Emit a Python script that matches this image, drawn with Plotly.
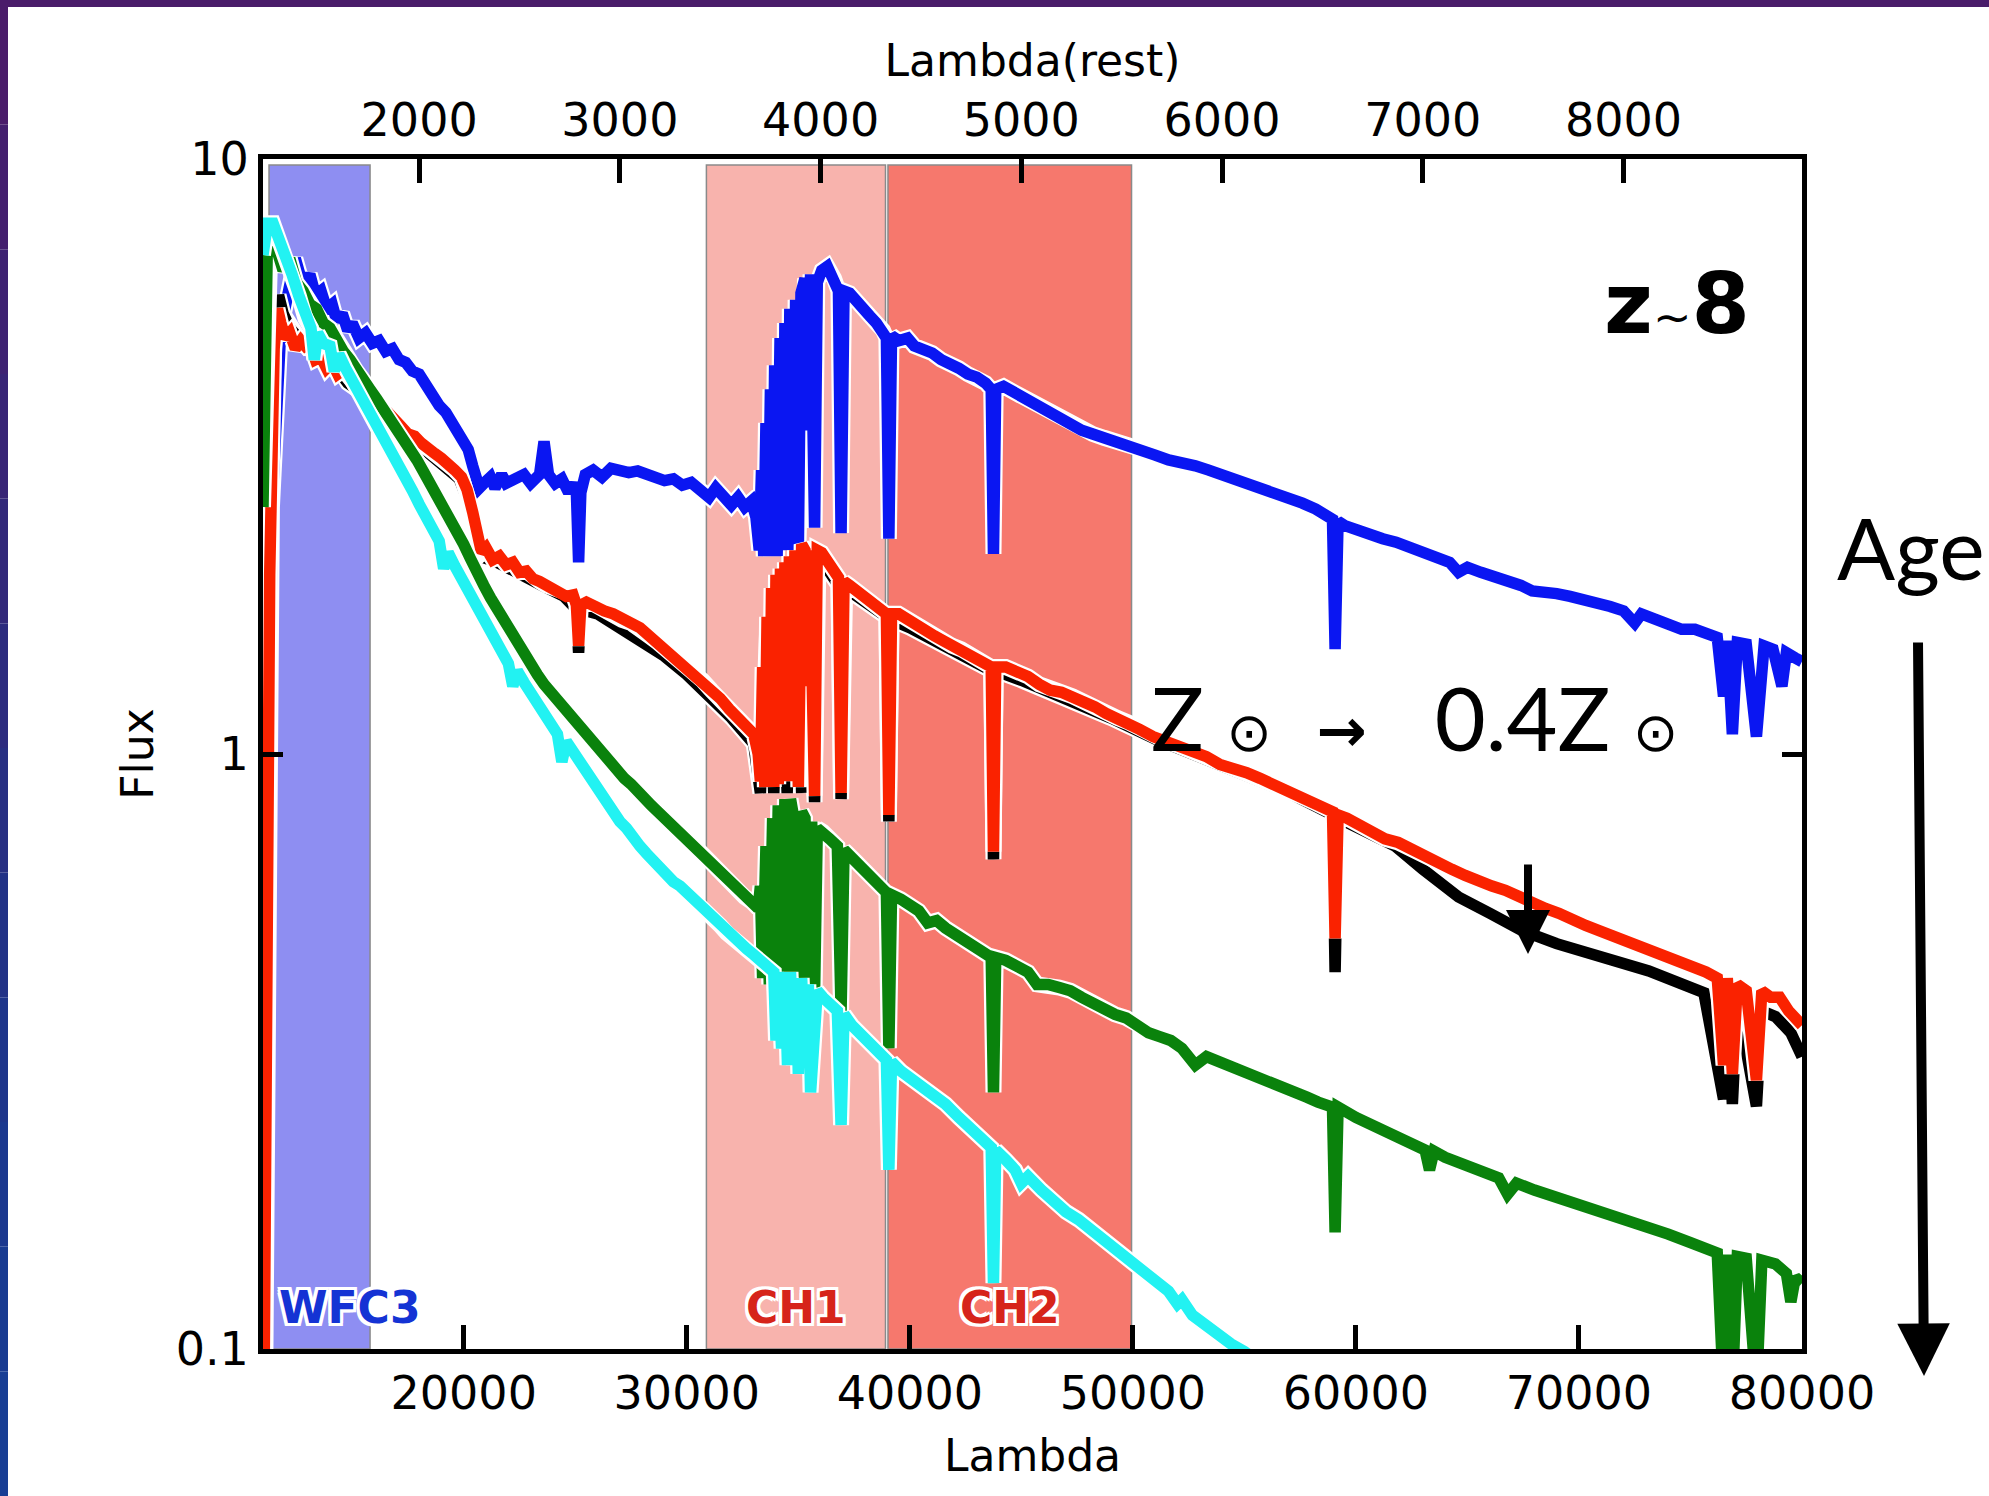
import plotly.graph_objects as go

# ---------------------------------------------------------------------------
# Model spectra of a z~8 galaxy (observed wavelength [A], flux)
# ---------------------------------------------------------------------------
REDSHIFT = 8
OBS_RANGE = (11000, 80000)
LOG_FLUX_RANGE = (-1, 1)

obs_ticks = [20000, 30000, 40000, 50000, 60000, 70000, 80000]
rest_ticks = [2000, 3000, 4000, 5000, 6000, 7000, 8000]
flux_ticks = [0.1, 1, 10]
flux_labels = ["0.1", "1", "10"]

# youngest population
blue_spectrum = [
    (11100, 0.09), (11250, 0.8), (11400, 2.6), (11800, 5.2), (12250, 6.5), (12450, 6.8), (12650, 6.4), (12900, 6.2),
    (13100, 6.4), (13350, 5.9), (13600, 6.0), (13850, 5.6), (14100, 5.7), (14300, 5.35), (14550, 5.5), (14800, 5.15),
    (15000, 5.3), (15300, 5.0), (15600, 5.1), (15900, 4.9), (16200, 4.95), (16500, 4.75), (16800, 4.8), (17100, 4.6),
    (17400, 4.55), (17700, 4.4), (18000, 4.35), (18300, 4.15), (18600, 4.0), (18900, 3.85), (19200, 3.75), (19500, 3.6),
    (19750, 3.5), (20000, 3.4), (20200, 3.25), (20400, 3.05), (20700, 2.8), (20900, 2.85), (21200, 2.92), (21400, 2.8),
    (21700, 2.95), (21900, 2.85), (22300, 2.9), (22700, 2.95), (23000, 2.85), (23400, 2.95), (23600, 3.35), (23800, 2.95),
    (24100, 2.85), (24400, 2.9), (24700, 2.75), (24900, 2.85), (25050, 2.75), (25150, 2.1), (25250, 2.75), (25450, 2.95),
    (25800, 3.0), (26200, 2.92), (26600, 3.02), (27000, 3.0), (27400, 2.97), (27800, 2.99), (28200, 2.95), (28600, 2.92),
    (29000, 2.88), (29400, 2.9), (29800, 2.83), (30200, 2.86), (30600, 2.78), (31000, 2.7), (31300, 2.8), (31700, 2.68),
    (32000, 2.62), (32300, 2.7), (32600, 2.6), (32900, 2.66), (33100, 2.5), (33250, 2.2), (33350, 3.0), (33450, 2.15),
    (33550, 3.6), (33650, 2.15), (33750, 4.1), (33850, 2.15), (33939, 4.5), (34050, 2.15), (34182, 5.0), (34300, 2.2),
    (34400, 5.3), (34515, 2.2), (34620, 5.6), (34750, 2.2), (34880, 5.8), (35001, 2.2), (35120, 5.95), (35300, 6.3),
    (35406, 3.5), (35550, 6.4), (35730, 2.4), (35850, 6.2), (36050, 6.5), (36300, 6.6), (36600, 6.3), (36800, 6.0),
    (36918, 2.35), (37050, 6.0), (37300, 5.95), (37600, 5.75), (37900, 5.6), (38200, 5.45), (38500, 5.3), (38800, 5.15),
    (38950, 5.0), (39060, 2.3), (39180, 5.05), (39500, 4.95), (39900, 5.0), (40200, 4.85), (40600, 4.8), (41000, 4.72),
    (41400, 4.6), (41800, 4.55), (42200, 4.45), (42600, 4.35), (43000, 4.3), (43400, 4.2), (43650, 4.1), (43750, 2.17),
    (43850, 4.1), (44200, 4.15), (44700, 4.05), (45200, 3.95), (45700, 3.85), (46200, 3.75), (46700, 3.68), (47200, 3.6),
    (47700, 3.5), (48200, 3.45), (48700, 3.4), (49200, 3.37), (49800, 3.33), (50400, 3.25), (51000, 3.18), (51600, 3.12),
    (52200, 3.1), (52800, 3.05), (53400, 3.0), (54000, 2.95), (54600, 2.9), (55200, 2.85), (55800, 2.8), (56400, 2.76),
    (57000, 2.7), (57600, 2.64), (58200, 2.58), (58800, 2.52), (58950, 2.48), (59067, 1.5), (59200, 2.46), (59500, 2.42),
    (60000, 2.38), (60600, 2.34), (61200, 2.3), (61800, 2.27), (62400, 2.22), (63000, 2.18), (63600, 2.14), (64200, 2.1),
    (64600, 2.02), (65000, 2.06), (65600, 2.02), (66200, 1.99), (66800, 1.95), (67400, 1.92), (67900, 1.88), (68400, 1.88),
    (69000, 1.86), (69600, 1.84), (70200, 1.82), (70800, 1.78), (71400, 1.77), (72000, 1.74), (72500, 1.66), (72800, 1.72),
    (73400, 1.69), (74000, 1.66), (74600, 1.62), (75200, 1.62), (75800, 1.58), (76200, 1.57), (76482, 1.25), (76650, 1.55),
    (76878, 1.08), (77100, 1.54), (77500, 1.53), (77958, 1.07), (78300, 1.52), (78700, 1.5), (79100, 1.3), (79300, 1.48),
    (79700, 1.45), (80000, 1.43),
]

# lower-metallicity companion of the red model (drawn underneath it)
black_spectrum = [
    (11030, 0.09), (11130, 0.6), (11300, 3.0), (11550, 5.4), (11700, 5.9), (11900, 5.5), (12200, 5.2), (12600, 5.0),
    (13000, 4.95), (13500, 4.7), (14000, 4.7), (14300, 4.45), (14800, 4.2), (15400, 4.05), (16000, 3.9), (17000, 3.55),
    (18000, 3.3), (19000, 3.1), (19800, 2.9), (20300, 2.6), (20700, 2.15), (21500, 2.1), (22500, 2.0), (23500, 1.92),
    (24500, 1.84), (25050, 1.75), (25150, 1.48), (25250, 1.75), (26000, 1.72), (27000, 1.63), (28000, 1.56), (29000, 1.46),
    (30000, 1.36), (31000, 1.25), (32000, 1.15), (33000, 1.04), (33300, 0.86), (33600, 1.6), (33900, 0.86), (34200, 1.9),
    (34500, 0.86), (34850, 2.1), (35150, 0.86), (35400, 2.1), (35730, 0.83), (35900, 2.1), (36300, 2.05), (36800, 1.92),
    (36918, 0.84), (37100, 1.9), (38000, 1.8), (38950, 1.7), (39060, 0.77), (39180, 1.68), (40000, 1.63), (41000, 1.56),
    (42000, 1.5), (43000, 1.43), (43650, 1.38), (43750, 0.665), (43850, 1.38), (45000, 1.33), (47000, 1.24), (49000, 1.15),
    (51000, 1.06), (53000, 0.99), (55000, 0.93), (57000, 0.86), (58950, 0.79), (59067, 0.43), (59200, 0.78), (60500, 0.74),
    (61760, 0.7), (63000, 0.64), (64600, 0.575), (66000, 0.54), (67440, 0.505), (69000, 0.48), (70290, 0.462), (71700, 0.448),
    (73130, 0.432), (74500, 0.412), (75600, 0.397), (76482, 0.263), (76650, 0.39), (76878, 0.258), (77100, 0.385), (77958, 0.256),
    (78200, 0.37), (78810, 0.362), (79500, 0.34), (80000, 0.31),
]

red_spectrum = [
    (11050, 0.09), (11150, 0.4), (11300, 2.0), (11500, 4.8), (11650, 5.6), (11800, 5.3), (12000, 5.0), (12200, 5.1),
    (12450, 4.8), (12700, 4.95), (12900, 4.85), (13100, 4.9), (13350, 4.6), (13600, 4.65), (13850, 4.45), (14100, 4.55),
    (14350, 4.35), (14600, 4.42), (14900, 4.25), (15200, 4.15), (15500, 4.15), (15750, 3.98), (16000, 4.0), (16300, 3.82),
    (16600, 3.75), (16900, 3.62), (17200, 3.55), (17500, 3.45), (17800, 3.42), (18100, 3.33), (18400, 3.28), (18700, 3.2),
    (19000, 3.14), (19300, 3.08), (19600, 3.0), (19900, 2.92), (20150, 2.78), (20400, 2.55), (20600, 2.3), (20800, 2.18),
    (21000, 2.22), (21300, 2.12), (21600, 2.15), (21900, 2.08), (22200, 2.1), (22500, 2.02), (22800, 2.03), (23100, 1.97),
    (23400, 1.95), (23700, 1.92), (24000, 1.9), (24300, 1.86), (24600, 1.84), (24900, 1.85), (25050, 1.78), (25150, 1.52),
    (25250, 1.78), (25500, 1.8), (25900, 1.78), (26300, 1.74), (26700, 1.72), (27100, 1.68), (27500, 1.66), (27900, 1.63),
    (28300, 1.58), (28700, 1.54), (29100, 1.5), (29500, 1.45), (29900, 1.41), (30300, 1.37), (30700, 1.33), (31100, 1.28),
    (31500, 1.24), (31900, 1.19), (32300, 1.15), (32700, 1.11), (33000, 1.08), (33200, 1.0), (33300, 0.9), (33400, 1.4),
    (33500, 0.88), (33600, 1.7), (33700, 0.88), (33800, 1.9), (33900, 0.88), (34000, 2.0), (34100, 0.89), (34200, 2.05),
    (34300, 0.9), (34400, 2.1), (34500, 0.9), (34600, 2.15), (34700, 0.9), (34850, 2.2), (35001, 0.88), (35150, 2.25),
    (35300, 2.2), (35406, 1.3), (35500, 2.2), (35730, 0.85), (35850, 2.2), (36050, 2.18), (36300, 2.12), (36600, 2.02),
    (36800, 1.98), (36918, 0.86), (37050, 1.95), (37300, 1.92), (37600, 1.88), (37900, 1.84), (38200, 1.8), (38500, 1.78),
    (38800, 1.74), (38950, 1.72), (39060, 0.79), (39180, 1.72), (39500, 1.72), (39900, 1.68), (40300, 1.66), (40700, 1.62),
    (41100, 1.58), (41500, 1.55), (41900, 1.52), (42300, 1.5), (42700, 1.47), (43100, 1.45), (43500, 1.42), (43650, 1.4),
    (43750, 0.685), (43850, 1.4), (44300, 1.4), (44800, 1.38), (45300, 1.35), (45800, 1.31), (46300, 1.28), (46800, 1.27),
    (47300, 1.25), (47800, 1.22), (48300, 1.2), (48800, 1.17), (49300, 1.15), (49800, 1.13), (50300, 1.1), (50900, 1.07),
    (51500, 1.05), (52100, 1.03), (52700, 1.01), (53300, 0.99), (53900, 0.96), (54500, 0.95), (55100, 0.93), (55700, 0.91),
    (56300, 0.89), (56900, 0.87), (57500, 0.85), (58100, 0.83), (58700, 0.81), (58950, 0.8), (59067, 0.49), (59200, 0.79),
    (59600, 0.78), (60100, 0.76), (60700, 0.74), (61300, 0.72), (61900, 0.71), (62500, 0.69), (63100, 0.67), (63700, 0.655),
    (64300, 0.64), (64900, 0.625), (65500, 0.61), (66100, 0.6), (66700, 0.59), (67300, 0.575), (67900, 0.565), (68500, 0.55),
    (69100, 0.54), (69700, 0.525), (70300, 0.515), (70900, 0.505), (71500, 0.495), (72100, 0.485), (72700, 0.475), (73300, 0.47),
    (73900, 0.46), (74500, 0.45), (75100, 0.44), (75700, 0.43), (76200, 0.42), (76482, 0.3), (76650, 0.42), (76878, 0.29),
    (77100, 0.41), (77500, 0.4), (77958, 0.283), (78200, 0.4), (78600, 0.39), (79000, 0.39), (79400, 0.37), (79700, 0.36),
    (80000, 0.35),
]

green_spectrum = [
    (11000, 2.6), (11120, 5.5), (11200, 7.4), (11350, 7.6), (11600, 7.0), (11900, 6.5), (12200, 6.8), (12500, 6.2),
    (12800, 6.0), (13100, 5.7), (13400, 5.6), (13700, 5.3), (14000, 5.2), (14300, 4.95), (14600, 4.75), (14900, 4.6),
    (15200, 4.4), (15500, 4.25), (15800, 4.1), (16100, 3.95), (16400, 3.8), (16700, 3.65), (17000, 3.55), (17300, 3.38),
    (17600, 3.25), (17900, 3.12), (18200, 2.98), (18500, 2.85), (18800, 2.72), (19100, 2.6), (19400, 2.48), (19700, 2.36),
    (20000, 2.25), (20300, 2.13), (20600, 2.0), (20900, 1.92), (21200, 1.83), (21500, 1.75), (21800, 1.67), (22100, 1.6),
    (22400, 1.53), (22700, 1.46), (23000, 1.41), (23300, 1.36), (23600, 1.31), (23900, 1.27), (24200, 1.23), (24500, 1.2),
    (24800, 1.16), (25100, 1.13), (25400, 1.09), (25700, 1.06), (26000, 1.03), (26300, 0.99), (26600, 0.96), (26900, 0.94),
    (27200, 0.91), (27500, 0.89), (27800, 0.87), (28100, 0.84), (28400, 0.82), (28700, 0.8), (29000, 0.78), (29300, 0.76),
    (29600, 0.74), (29900, 0.72), (30200, 0.71), (30500, 0.69), (30800, 0.67), (31100, 0.655), (31400, 0.64), (31700, 0.62),
    (32000, 0.605), (32300, 0.59), (32600, 0.575), (32900, 0.565), (33200, 0.55), (33300, 0.6), (33400, 0.42), (33550, 0.7),
    (33700, 0.41), (33850, 0.78), (33950, 0.4), (34100, 0.82), (34250, 0.4), (34400, 0.84), (34515, 0.42), (34650, 0.84),
    (34800, 0.78), (35001, 0.38), (35150, 0.8), (35300, 0.78), (35450, 0.42), (35600, 0.77), (35730, 0.4), (35850, 0.75),
    (36100, 0.74), (36400, 0.72), (36750, 0.7), (36918, 0.37), (37050, 0.69), (37400, 0.67), (37800, 0.645), (38200, 0.62),
    (38600, 0.6), (38950, 0.585), (39060, 0.32), (39180, 0.58), (39600, 0.57), (40000, 0.56), (40400, 0.545), (40800, 0.52),
    (41200, 0.525), (41600, 0.51), (42000, 0.5), (42400, 0.49), (42800, 0.48), (43200, 0.47), (43650, 0.455), (43750, 0.27),
    (43850, 0.455), (44300, 0.45), (44800, 0.44), (45300, 0.43), (45700, 0.41), (46200, 0.41), (46700, 0.405), (47200, 0.4),
    (47700, 0.39), (48200, 0.38), (48700, 0.37), (49200, 0.365), (49700, 0.36), (50200, 0.35), (50700, 0.34), (51200, 0.335),
    (51700, 0.33), (52200, 0.32), (52800, 0.3), (53300, 0.31), (53800, 0.305), (54300, 0.3), (54800, 0.295), (55300, 0.29),
    (55800, 0.285), (56300, 0.28), (56800, 0.275), (57300, 0.27), (57800, 0.265), (58300, 0.26), (58800, 0.258), (58950, 0.255),
    (59067, 0.157), (59200, 0.255), (60000, 0.245), (61000, 0.235), (61760, 0.227), (62500, 0.222), (63100, 0.216), (63300, 0.2),
    (63500, 0.215), (64000, 0.21), (64600, 0.206), (65500, 0.2), (66400, 0.194), (66800, 0.182), (67200, 0.19), (68000, 0.185),
    (69000, 0.18), (70290, 0.174), (71000, 0.17), (72000, 0.166), (73130, 0.161), (74000, 0.156), (75000, 0.151), (75970, 0.146),
    (76200, 0.145), (76482, 0.085), (76650, 0.144), (76878, 0.085), (77100, 0.143), (77500, 0.142), (77958, 0.085), (78200, 0.141),
    (78810, 0.139), (79300, 0.134), (79500, 0.12), (79700, 0.132), (80000, 0.129),
]

# oldest population
cyan_spectrum = [
    (11000, 6.9), (11100, 7.6), (11200, 7.8), (11450, 7.8), (11700, 7.4), (12000, 6.9), (12300, 6.4), (12600, 5.9),
    (12900, 5.4), (13150, 5.2), (13300, 4.6), (13450, 5.1), (13700, 4.9), (14000, 4.85), (14200, 4.4), (14400, 4.7),
    (14700, 4.45), (15000, 4.25), (15300, 4.05), (15600, 3.9), (15900, 3.72), (16200, 3.55), (16500, 3.38), (16800, 3.22),
    (17100, 3.05), (17400, 2.9), (17700, 2.77), (18000, 2.63), (18300, 2.5), (18600, 2.38), (18900, 2.28), (19100, 2.05),
    (19300, 2.18), (19600, 2.07), (19900, 1.97), (20200, 1.88), (20500, 1.79), (20800, 1.7), (21100, 1.62), (21400, 1.54),
    (21700, 1.47), (22000, 1.42), (22200, 1.3), (22400, 1.38), (22700, 1.32), (23000, 1.27), (23300, 1.22), (23600, 1.18),
    (23900, 1.12), (24200, 1.08), (24400, 0.97), (24600, 1.05), (24900, 1.01), (25200, 0.97), (25500, 0.93), (25800, 0.89),
    (26100, 0.86), (26400, 0.83), (26700, 0.8), (27000, 0.77), (27300, 0.75), (27600, 0.72), (27900, 0.7), (28200, 0.68),
    (28500, 0.66), (28800, 0.645), (29100, 0.63), (29400, 0.61), (29700, 0.6), (30000, 0.585), (30300, 0.57), (30600, 0.555),
    (30900, 0.54), (31200, 0.53), (31500, 0.515), (31800, 0.5), (32100, 0.49), (32400, 0.48), (32700, 0.47), (33000, 0.46),
    (33300, 0.45), (33600, 0.44), (33900, 0.43), (34000, 0.33), (34100, 0.43), (34250, 0.32), (34400, 0.43), (34515, 0.3),
    (34650, 0.43), (34800, 0.3), (34900, 0.42), (35001, 0.29), (35150, 0.42), (35300, 0.3), (35450, 0.41), (35550, 0.27),
    (35730, 0.4), (35850, 0.4), (36100, 0.39), (36400, 0.38), (36750, 0.37), (36918, 0.238), (37050, 0.365), (37400, 0.35),
    (37900, 0.336), (38400, 0.32), (38950, 0.306), (39060, 0.2), (39180, 0.304), (39600, 0.293), (40170, 0.283), (40600, 0.275),
    (41000, 0.268), (41600, 0.258), (42200, 0.245), (42800, 0.233), (43300, 0.225), (43650, 0.218), (43750, 0.129), (43850, 0.216),
    (44300, 0.208), (44720, 0.2), (45000, 0.19), (45300, 0.195), (45900, 0.185), (46500, 0.176), (47000, 0.17), (47560, 0.165),
    (48200, 0.158), (48800, 0.151), (49400, 0.145), (50000, 0.139), (50400, 0.136), (51000, 0.13), (51600, 0.125), (52000, 0.119),
    (52200, 0.121), (52670, 0.114), (53200, 0.11), (53800, 0.106), (54400, 0.102), (55000, 0.099), (55500, 0.096), (56000, 0.093),
]

spectra = [blue_spectrum, black_spectrum, red_spectrum, green_spectrum, cyan_spectrum]
spectrum_colors = ["#0a16f2", "#000000", "#fa2200", "#0a820c", "#22f2f2"]

# Filter bands (observed wavelength limits)
band_names = ["WFC3", "CH1", "CH2"]
band_lo = [11270, 30880, 39020]
band_hi = [15800, 38910, 49940]
band_fill = ["#8e8ef2", "#f8b3ad", "#f6786d"]
band_text_color = ["#1433d4", "#d6241a", "#d6241a"]
band_label_anchor = ["left", "center", "center"]

# ---------------------------------------------------------------------------
# Page geometry
# ---------------------------------------------------------------------------
W, H = 1989, 1496
M_L, M_R, M_T, M_B = 263, 187, 159, 147
PLOT_W = W - M_L - M_R
PLOT_H = H - M_T - M_B


def paper_x(px):
    return (px - M_L) / PLOT_W


def paper_y(py):
    return (H - M_B - py) / PLOT_H


TICK_FONT = dict(family="DejaVu Sans", size=46, color="black")
TITLE_FONT = dict(family="DejaVu Sans", size=44, color="black")
SLIDE_FONT = "Lato, 'DejaVu Sans', sans-serif"
WHITE_HALO = ("-3px -3px 0 #fff, 3px -3px 0 #fff, -3px 3px 0 #fff, 3px 3px 0 #fff, "
              "0 3px 0 #fff, 0 -3px 0 #fff, 3px 0 0 #fff, -3px 0 0 #fff")

fig = go.Figure()

# spectra: each curve gets its own white halo beneath it
for spec, color in zip(spectra, spectrum_colors):
    lam = [p[0] for p in spec]
    flux = [p[1] for p in spec]
    fig.add_trace(go.Scatter(x=lam, y=flux, mode="lines", line=dict(color="white", width=16),
                             hoverinfo="skip", showlegend=False))
    fig.add_trace(go.Scatter(x=lam, y=flux, mode="lines", line=dict(color=color, width=11.5),
                             hoverinfo="skip", showlegend=False))

# rest-frame copy on the top axis (invisible, it only carries the second scale)
fig.add_trace(go.Scatter(x=[p[0] / (1 + REDSHIFT) for p in blue_spectrum],
                         y=[p[1] for p in blue_spectrum], xaxis="x2", yaxis="y",
                         mode="lines", line=dict(width=0), opacity=0,
                         hoverinfo="skip", showlegend=False))

shapes = []
annotations = []

# filter bands and their labels
for name, lo, hi, fill, tcol, anc in zip(band_names, band_lo, band_hi, band_fill,
                                         band_text_color, band_label_anchor):
    shapes.append(dict(type="rect", xref="x", yref="paper", x0=lo, x1=hi, y0=0, y1=0.995,
                       fillcolor=fill, line=dict(color="#8a8a8a", width=1.5), layer="below"))
    annotations.append(dict(
        x=lo if anc == "left" else (lo + hi) / 2, y=paper_y(1307), xref="x", yref="paper",
        xanchor=anc, yanchor="middle", xshift=8 if anc == "left" else 0, showarrow=False,
        text=name, font=dict(family="DejaVu Sans", size=44, weight="bold", color=tcol,
                             shadow=WHITE_HALO)))

# slide border (purple to blue on the left edge, purple on top)
strip_colors = ["#4a1c6a", "#441f6e", "#3e2272", "#382576", "#32287a", "#2c2b7e",
                "#272f82", "#223286", "#1e358a", "#1b388e", "#193b91", "#183e94"]
n = len(strip_colors)
for i, c in enumerate(strip_colors):
    shapes.append(dict(type="rect", xref="paper", yref="paper",
                       x0=paper_x(0), x1=paper_x(8),
                       y0=paper_y(H * (i + 1) / n), y1=paper_y(H * i / n),
                       fillcolor=c, line=dict(width=0), layer="above"))
shapes.append(dict(type="rect", xref="paper", yref="paper", x0=paper_x(0), x1=paper_x(W),
                   y0=paper_y(7), y1=paper_y(0), fillcolor="#4a1c6a", line=dict(width=0),
                   layer="above"))

# slide annotations
annotations += [
    dict(x=paper_x(1677), y=paper_y(304), xref="paper", yref="paper", showarrow=False,
         xanchor="center", yanchor="middle",
         text="<b>z</b><span style='font-size:46px;font-weight:normal'>~</span><b>8</b>",
         font=dict(family="DejaVu Sans", size=84, color="black")),
    dict(x=paper_x(1987), y=paper_y(546), xref="paper", yref="paper", showarrow=False,
         xanchor="right", yanchor="middle", text="Age",
         font=dict(family=SLIDE_FONT, size=86, color="black")),
    dict(x=paper_x(1414), y=paper_y(717), xref="paper", yref="paper", showarrow=False,
         xanchor="center", yanchor="middle",
         text=("Z\u00a0<span style='font-size:54px'>\u2299</span>\u00a0\u00a0"
               "<span style='font-family:DejaVu Sans;font-size:60px;font-weight:bold'>\u2192</span>"
               "\u00a0\u00a0\u00a0"
               "0.4Z\u00a0<span style='font-size:54px'>\u2299</span>"),
         font=dict(family=SLIDE_FONT, size=88, color="black")),
    # long age arrow
    dict(x=paper_x(1924), y=paper_y(1376), xref="paper", yref="paper", text="",
         showarrow=True, ax=-6, ay=-735, axref="pixel", ayref="pixel",
         arrowhead=2, arrowsize=1.05, arrowwidth=10, arrowcolor="black", standoff=0),
    # metallicity arrow
    dict(x=paper_x(1528), y=paper_y(954), xref="paper", yref="paper", text="",
         showarrow=True, ax=0, ay=-91, axref="pixel", ayref="pixel",
         arrowhead=2, arrowsize=1.1, arrowwidth=8, arrowcolor="black", standoff=0),
]

axis_common = dict(showgrid=False, zeroline=False, showline=True, linecolor="black",
                   linewidth=5, ticks="inside", tickcolor="black", tickwidth=5,
                   tickfont=TICK_FONT, automargin=False)

fig.update_layout(
    width=W, height=H,
    margin=dict(l=M_L, r=M_R, t=M_T, b=M_B, pad=0),
    paper_bgcolor="white", plot_bgcolor="white",
    showlegend=False,
    xaxis=dict(axis_common, range=list(OBS_RANGE), tickvals=obs_ticks,
               ticktext=[str(v) for v in obs_ticks], ticklen=24, mirror=False,
               title=dict(text="Lambda", font=TITLE_FONT, standoff=22)),
    xaxis2=dict(axis_common, range=[OBS_RANGE[0] / (1 + REDSHIFT), OBS_RANGE[1] / (1 + REDSHIFT)],
                overlaying="x", side="top", anchor="y", tickvals=rest_ticks,
                ticktext=[str(v) for v in rest_ticks], ticklen=24,
                title=dict(text="Lambda(rest)", font=TITLE_FONT, standoff=4)),
    yaxis=dict(axis_common, type="log", range=list(LOG_FLUX_RANGE), tickvals=flux_ticks,
               ticktext=flux_labels, ticklen=20, mirror="ticks",
               title=dict(text="Flux", font=TITLE_FONT, standoff=10)),
    shapes=shapes,
    annotations=annotations,
)

fig.write_html("out.html")
